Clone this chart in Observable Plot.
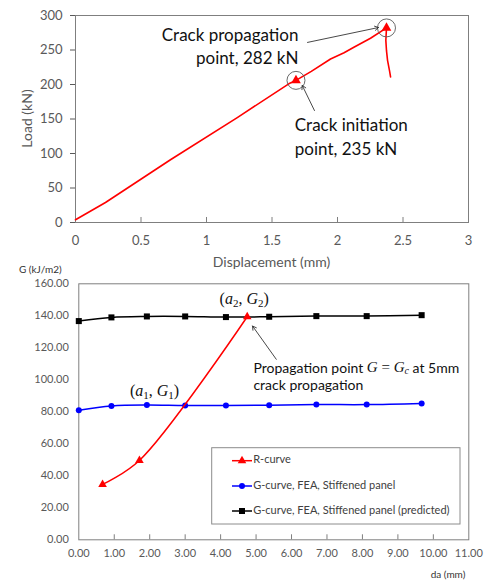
<!DOCTYPE html>
<html><head><meta charset="utf-8">
<script src="https://cdn.jsdelivr.net/npm/d3@7"></script>
<script src="https://cdn.jsdelivr.net/npm/@observablehq/plot@0.6"></script>
<style>
body{margin:0;background:#fff;font-family:Lato,sans-serif;}
#wrap{position:relative;width:492px;height:580px;overflow:hidden;background:#fff}
#wrap svg{position:absolute;left:0}
</style></head><body><div id="wrap"></div>
<script>
// ---- Top chart data: load vs displacement ----
const dispMm = [0, 0.229, 0.725, 1.235, 1.628, 1.683, 1.80, 1.947, 2.05, 2.125, 2.252, 2.374, 2.369, 2.374, 2.382, 2.397, 2.405];
const loadKN = [4, 29, 91, 152, 201, 206, 219, 237, 246, 254, 267, 282, 264, 249, 235, 220, 211];
const keyDisp = [1.683, 2.374];
const keyLoad = [206, 282];
const dispTicks = [0, 0.5, 1, 1.5, 2, 2.5, 3];
const loadTicks = [0, 50, 100, 150, 200, 250, 300];

// ---- Bottom chart data: G vs crack extension ----
const daFEA = [0, 0.92, 1.92, 3.0, 4.15, 5.37, 6.70, 8.12, 9.67];
const gStiffened = [81.0, 83.7, 84.3, 83.9, 83.9, 84.1, 84.5, 84.5, 85.2];
const gPredicted = [136.7, 139.0, 139.6, 139.6, 139.2, 139.4, 139.8, 139.8, 140.4];
const daR = [0.67, 1.71, 4.75];
const gR = [34.6, 49.6, 139.4];
const daTicks = [0,1,2,3,4,5,6,7,8,9,10,11];
const gTicks = [0,20,40,60,80,100,120,140,160];
const legendLabels = ["R-curve", "G-curve, FEA, Stiffened panel", "G-curve, FEA, Stiffened panel (predicted)"];

const FRAME = "#7f7f7f";
const TXT = "#595959";
const wrap = document.getElementById("wrap");

const loadData = dispMm.map((d, i) => ({d, l: loadKN[i]}));
const keyData = keyDisp.map((d, i) => ({d, l: keyLoad[i]}));

const topPlot = Plot.plot({
  width: 492, height: 275,
  marginTop: 15, marginRight: 24, marginBottom: 53, marginLeft: 75,
  style: {background: "transparent", overflow: "visible", fontFamily: "Lato, sans-serif", fontSize: "13px", color: TXT},
  x: {domain: [0, 3]},
  y: {domain: [0, 300]},
  marks: [
    Plot.frame({stroke: FRAME}),
    Plot.axisX(dispTicks, {tickSize: 0, tickPadding: 13, tickFormat: d => String(d), label: null, fontSize: 13}),
    Plot.ruleX(dispTicks.slice(1, -1), {y1: 0, y2: 7.25, stroke: FRAME}),
    Plot.axisY(loadTicks, {tickSize: 5, tickPadding: 8, label: null, fontSize: 13}),
    Plot.line(loadData, {x: "d", y: "l", stroke: "#ff0000", strokeWidth: 1.6}),
    Plot.dot(keyData, {x: "d", y: "l", symbol: "triangle", r: 3.6, fill: "#ff0000"}),
    Plot.dot(keyData, {x: "d", y: "l", r: 9, stroke: "#595959", fill: "none", strokeWidth: 0.9}),
    Plot.text(["Crack propagation\npoint, 282 kN"], {x: 1.702, y: 257, textAnchor: "end", lineAnchor: "middle", fontSize: 17, lineHeight: 1.38, fill: "#111"}),
    Plot.text(["Crack initiation\npoint, 235 kN"], {x: 1.674, y: 126.4, textAnchor: "start", lineAnchor: "middle", fontSize: 17, lineHeight: 1.38, fill: "#111"}),
    Plot.arrow([0], {x1: 1.771, y1: 261, x2: 2.313, y2: 282.6, stroke: "#333", strokeWidth: 0.9, headLength: 7}),
    Plot.arrow([0], {x1: 1.824, y1: 162.3, x2: 1.731, y2: 198.6, stroke: "#333", strokeWidth: 0.9, headLength: 7})
  ]
});
topPlot.style.top = "0px";
wrap.appendChild(topPlot);
{
  const s = d3.select(topPlot);
  s.append("text").attr("x", 271.5).attr("y", 263).attr("text-anchor", "middle").attr("dominant-baseline", "middle")
    .attr("font-size", 14).attr("fill", TXT).attr("font-family", "Lato, sans-serif").text("Displacement (mm)");
  s.append("text").attr("transform", "translate(28,118.5) rotate(-90)").attr("text-anchor", "middle").attr("dominant-baseline", "middle")
    .attr("font-size", 14).attr("fill", TXT).attr("font-family", "Lato, sans-serif").text("Load (kN)");
}

const predData = daFEA.map((x, i) => ({x, g: gPredicted[i]}));
const stifData = daFEA.map((x, i) => ({x, g: gStiffened[i]}));
const rData = daR.map((x, i) => ({x, g: gR[i]}));

const botPlot = Plot.plot({
  width: 492, height: 320,
  marginTop: 23.3, marginRight: 23.7, marginBottom: 40.7, marginLeft: 78.3,
  style: {background: "transparent", overflow: "visible", fontFamily: "Lato, sans-serif", fontSize: "11px", color: TXT},
  x: {domain: [0, 11]},
  y: {domain: [0, 160]},
  marks: [
    Plot.frame({stroke: FRAME}),
    Plot.axisX(daTicks, {tickSize: 0, tickPadding: 9, tickFormat: d => d.toFixed(2), label: null, fontSize: 11}),
    Plot.ruleX(daTicks.slice(1, -1), {y1: 0, y2: 3.13, stroke: FRAME}),
    Plot.axisY(gTicks, {tickSize: 0, tickPadding: 10, tickFormat: d => d.toFixed(2), label: null, fontSize: 11}),
    Plot.line(predData, {x: "x", y: "g", stroke: "#000", strokeWidth: 1.5, curve: "catmull-rom"}),
    Plot.dot(predData, {x: "x", y: "g", symbol: "square", r: 3.4, fill: "#000"}),
    Plot.line(stifData, {x: "x", y: "g", stroke: "#0000ff", strokeWidth: 1.5, curve: "catmull-rom"}),
    Plot.dot(stifData, {x: "x", y: "g", r: 3, fill: "#0000ff"}),
    Plot.line(rData, {x: "x", y: "g", stroke: "#ff0000", strokeWidth: 1.5, curve: "catmull-rom"}),
    Plot.dot(rData, {x: "x", y: "g", symbol: "triangle", r: 3.2, fill: "#ff0000"}),
    Plot.arrow([0], {x1: 5.57, y1: 112.8, x2: 4.90, y2: 133.6, stroke: "#333", strokeWidth: 0.9, headLength: 7})
  ]
});
botPlot.style.top = "260px";
wrap.appendChild(botPlot);
{
  const s = d3.select(botPlot);
  const xs = botPlot.scale("x"), ys = botPlot.scale("y");
  const font = "Lato, sans-serif";
  s.append("text").attr("x", 19).attr("y", 10).attr("text-anchor", "start").attr("dominant-baseline", "middle")
    .attr("font-size", 10).attr("fill", "#333").attr("font-family", font).text("G (kJ/m2)");
  s.append("text").attr("x", 448).attr("y", 315).attr("text-anchor", "middle").attr("dominant-baseline", "middle")
    .attr("font-size", 10).attr("fill", "#333").attr("font-family", font).text("da (mm)");

  function mathLabel(cx, cy, n) {
    const t = s.append("text").attr("x", cx).attr("y", cy).attr("text-anchor", "middle").attr("dominant-baseline", "middle")
      .attr("font-family", "'Liberation Serif', serif").attr("font-size", 16).attr("fill", "#111");
    t.append("tspan").text("(");
    t.append("tspan").attr("font-style", "italic").text("a");
    t.append("tspan").attr("font-size", 11).attr("dy", 4).text(n);
    t.append("tspan").attr("dy", -4).text(", ");
    t.append("tspan").attr("font-style", "italic").text("G");
    t.append("tspan").attr("font-size", 11).attr("dy", 4).text(n);
    t.append("tspan").attr("dy", -4).text(")");
  }
  mathLabel(xs.apply(4.68), ys.apply(149.8), "2");
  mathLabel(xs.apply(2.15), ys.apply(92.3), "1");

  const px = xs.apply(4.94);
  const p1 = s.append("text").attr("x", px).attr("y", ys.apply(106.7)).attr("text-anchor", "start").attr("dominant-baseline", "middle")
    .attr("font-family", font).attr("font-size", 14).attr("fill", "#111");
  p1.append("tspan").text("Propagation point ");
  p1.append("tspan").attr("font-family", "'Liberation Serif', serif").attr("font-style", "italic").attr("font-size", 15).text("G");
  p1.append("tspan").attr("font-family", "'Liberation Serif', serif").attr("font-size", 15).text(" = ");
  p1.append("tspan").attr("font-family", "'Liberation Serif', serif").attr("font-style", "italic").attr("font-size", 15).text("G");
  p1.append("tspan").attr("font-family", "'Liberation Serif', serif").attr("font-style", "italic").attr("font-size", 10).attr("dy", 3).text("c");
  p1.append("tspan").attr("dy", -3).text(" at 5mm");
  s.append("text").attr("x", px).attr("y", ys.apply(95.6)).attr("text-anchor", "start").attr("dominant-baseline", "middle")
    .attr("font-family", font).attr("font-size", 14).attr("fill", "#111").text("crack propagation");

  // legend
  const lg = s.append("g").attr("transform", "translate(211.7,187.7)");
  lg.append("rect").attr("width", 248.3).attr("height", 76.3).attr("fill", "#fff").attr("stroke", "#8c8c8c");
  const colors = ["#ff0000", "#0000ff", "#000000"];
  const syms = [d3.symbolTriangle, d3.symbolCircle, d3.symbolSquare];
  const sizes = [Math.PI * 3.2 * 3.2, Math.PI * 3 * 3, Math.PI * 3.4 * 3.4];
  const rowsY = [13, 38.3, 63.3];
  legendLabels.forEach((lab, i) => {
    const g = lg.append("g").attr("transform", `translate(0,${rowsY[i]})`);
    g.append("line").attr("x1", 20.3).attr("x2", 40.3).attr("stroke", colors[i]).attr("stroke-width", 1.5);
    g.append("path").attr("transform", "translate(30.3,0)").attr("d", d3.symbol(syms[i], sizes[i])()).attr("fill", colors[i]);
    g.append("text").attr("x", 41.5).attr("text-anchor", "start").attr("dominant-baseline", "middle").attr("font-size", 11).attr("font-family", font).attr("fill", "#404040").text(lab);
  });
}
</script></body></html>
